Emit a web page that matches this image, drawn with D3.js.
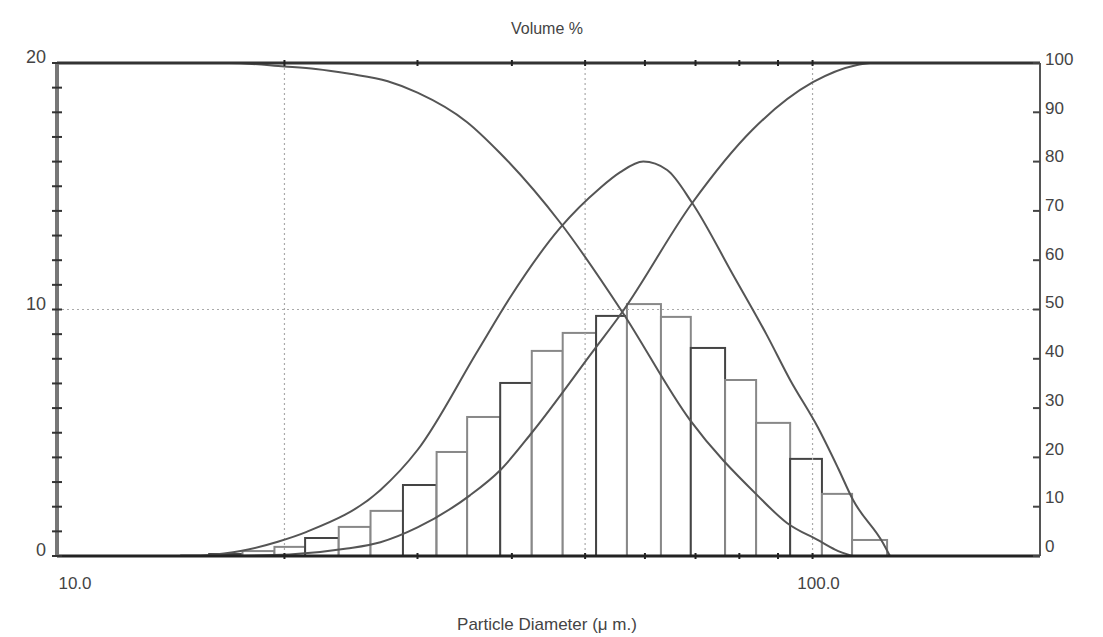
<!DOCTYPE html>
<html>
<head>
<meta charset="utf-8">
<script src="https://cdn.jsdelivr.net/npm/d3@7"></script>
<style>
  body { margin: 0; background: #fff; }
  text { font-family: "Liberation Sans", Arial, sans-serif; fill: #444; }
</style>
</head>
<body>
<div id="chart-area"></div>
<script>
// bin edges (µm) and volume % per bin
const binEdges = [14.6, 15.9, 17.6, 19.4, 21.3, 23.6, 26.0, 28.7, 31.8, 34.9, 38.6, 42.5,
    46.7, 51.7, 56.8, 63.0, 69.0, 76.6, 84.2, 93.4, 102.9, 112.8, 125.5];
const binValues = [0.03, 0.08, 0.2, 0.37, 0.73, 1.18, 1.83, 2.88, 4.22, 5.64, 7.02, 8.32,
    9.05, 9.74, 10.22, 9.70, 8.44, 7.14, 5.40, 3.94, 2.52, 0.65];

// cumulative oversize (%)
const overD = [14.1, 16.9, 20.0, 22.0, 24.4, 27.4, 30.0, 34.9, 38.6, 46.3, 56.0, 68.8, 84.4, 92.5, 101.7, 107.1, 112.8];
const overV = [100, 100, 99.3, 98.8, 97.8, 96.3, 94.0, 88, 81.7, 67.7, 49.5, 27.6, 12.4, 6.7, 3.2, 1.3, 0];

// cumulative undersize (%)
const underD = [16.9, 20.3, 24.2, 26.8, 30.0, 35.2, 38.6, 42.5, 51.2, 56.0, 69.3, 83.2, 100.1, 114.5, 119.1];
const underV = [0, 0.3, 1.5, 2.8, 5.8, 12.3, 17.4, 25, 41.5, 49.5, 71.6, 86.4, 96.1, 99.6, 100];

// frequency curve (right axis units)
const freqD = [15.5, 17.5, 19.6, 21.4, 26.8, 30.0, 36.0, 39.8, 46.3, 52.3, 55.6, 59.7, 64.2,
    69.3, 78.5, 87.0, 93.4, 101.7, 108.1, 113.1, 124.0, 126.6];
const freqV = [0, 1.0, 2.9, 4.9, 13.4, 21.5, 41.5, 52.5, 66.5, 74.6, 77.8, 80, 78.3,
    71.6, 57, 44.8, 35.7, 26, 17.8, 11.4, 2.6, 0];

const leftTicks = [0, 10, 20];
const rightTicks = [0, 10, 20, 30, 40, 50, 60, 70, 80, 90, 100];
const xLabels = [10, 100];
const minorX = [20, 30, 40, 50, 60, 70, 80, 90, 100];
const gridX = [20, 50, 100];

const W = 1103, H = 637;
const plot = { left: 57, right: 1040, top: 63, bottom: 556 };

const svg = d3.select("#chart-area")
    .append("svg")
    .attr("width", W)
    .attr("height", H);

const x = d3.scaleLog().domain([10, 200]).range([plot.left, plot.right]);
const yL = d3.scaleLinear().domain([0, 20]).range([plot.bottom, plot.top]);
const yR = d3.scaleLinear().domain([0, 100]).range([plot.bottom, plot.top]);

// bars
const bars = binValues.map((v, i) => ({ x0: binEdges[i], x1: binEdges[i + 1], v: v }));
svg.append("g").selectAll("rect")
    .data(bars)
    .enter()
    .append("rect")
    .attr("x", d => x(d.x0))
    .attr("y", d => yL(d.v))
    .attr("width", d => x(d.x1) - x(d.x0))
    .attr("height", d => yL(0) - yL(d.v))
    .attr("fill", "#fff")
    .attr("stroke", (d, i) => (i % 3 === 1 ? "#444" : "#888"))
    .attr("stroke-width", 2);

// grid
const grid = svg.append("g")
    .attr("stroke", "#aaa")
    .attr("stroke-width", 1.2)
    .attr("stroke-dasharray", "2,3");
grid.selectAll("line.gx")
    .data(gridX)
    .enter()
    .append("line")
    .attr("x1", d => x(d)).attr("x2", d => x(d))
    .attr("y1", plot.top).attr("y2", plot.bottom);
grid.append("line")
    .attr("x1", plot.left).attr("x2", plot.right)
    .attr("y1", yL(10)).attr("y2", yL(10));

// curves
const line = d3.line()
    .x(d => x(d[0]))
    .y(d => yR(d[1]))
    .curve(d3.curveMonotoneX);
[[overD, overV], [underD, underV], [freqD, freqV]].forEach(s => {
    svg.append("path")
        .datum(s[0].map((d, i) => [d, s[1][i]]))
        .attr("d", line)
        .attr("fill", "none")
        .attr("stroke", "#555")
        .attr("stroke-width", 2);
});

// frame
svg.append("line").attr("x1", plot.left).attr("x2", plot.right).attr("y1", plot.top).attr("y2", plot.top)
    .attr("stroke", "#333").attr("stroke-width", 3);
svg.append("line").attr("x1", plot.left).attr("x2", plot.right).attr("y1", plot.bottom).attr("y2", plot.bottom)
    .attr("stroke", "#222").attr("stroke-width", 3);
svg.append("line").attr("x1", plot.left).attr("x2", plot.left).attr("y1", plot.top).attr("y2", plot.bottom)
    .attr("stroke", "#777").attr("stroke-width", 4);
svg.append("line").attr("x1", plot.right).attr("x2", plot.right).attr("y1", plot.top).attr("y2", plot.bottom)
    .attr("stroke", "#555").attr("stroke-width", 2);

// left minor ticks every 1 unit
svg.append("g").selectAll("line")
    .data(d3.range(0, 21))
    .enter()
    .append("line")
    .attr("x1", plot.left - 5).attr("x2", plot.left + 5)
    .attr("y1", d => yL(d)).attr("y2", d => yL(d))
    .attr("stroke", "#333").attr("stroke-width", 2);

// right ticks
svg.append("g").selectAll("line")
    .data(rightTicks)
    .enter()
    .append("line")
    .attr("x1", plot.right - 7).attr("x2", plot.right)
    .attr("y1", d => yR(d)).attr("y2", d => yR(d))
    .attr("stroke", "#444").attr("stroke-width", 2);

// top / bottom minor ticks
[plot.top, plot.bottom].forEach(yy => {
    svg.append("g").selectAll("line")
        .data(minorX)
        .enter()
        .append("line")
        .attr("x1", d => x(d)).attr("x2", d => x(d))
        .attr("y1", yy - 3).attr("y2", yy + 3)
        .attr("stroke", "#222").attr("stroke-width", 2);
});

// labels
svg.append("g").selectAll("text")
    .data(leftTicks)
    .enter()
    .append("text")
    .attr("x", 46)
    .attr("y", d => yL(d) - 6)
    .attr("dy", "0.35em")
    .attr("text-anchor", "end")
    .attr("font-size", "18px")
    .text(d => d);

svg.append("g").selectAll("text")
    .data(rightTicks)
    .enter()
    .append("text")
    .attr("x", 1045)
    .attr("y", d => yR(d) - 4 - (100 - d) * 0.06)
    .attr("dy", "0.35em")
    .attr("text-anchor", "start")
    .attr("font-size", "17px")
    .text(d => d);

svg.append("g").selectAll("text")
    .data(xLabels)
    .enter()
    .append("text")
    .attr("x", d => x(d) + (d === 10 ? 18 : 6))
    .attr("y", 583)
    .attr("dy", "0.35em")
    .attr("text-anchor", "middle")
    .attr("font-size", "17px")
    .text(d => d3.format(".1f")(d));

svg.append("text")
    .attr("x", 547).attr("y", 28)
    .attr("dy", "0.35em")
    .attr("text-anchor", "middle")
    .attr("font-size", "16px")
    .text("Volume %");

svg.append("text")
    .attr("x", 547).attr("y", 624)
    .attr("dy", "0.35em")
    .attr("text-anchor", "middle")
    .attr("font-size", "17px")
    .text("Particle Diameter (\u03bc m.)");
</script>
</body>
</html>
